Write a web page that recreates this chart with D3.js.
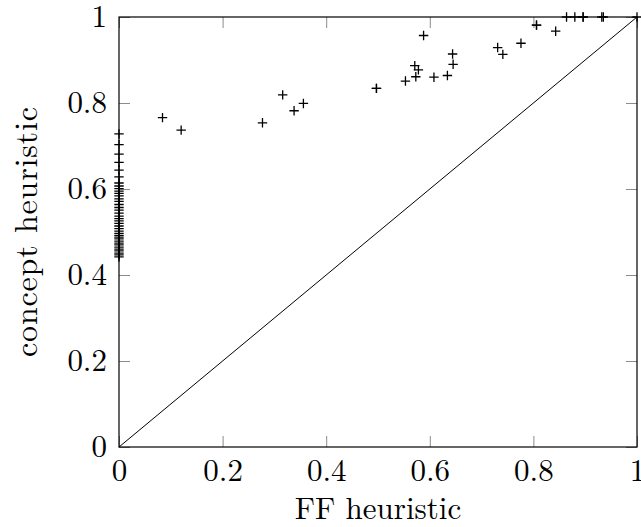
<!DOCTYPE html>
<html>
<head>
<meta charset="utf-8">
<script src="https://cdn.jsdelivr.net/npm/d3@7"></script>
<style>
  body { margin: 0; background: #fff; }
  svg text { font-family: "Latin Modern Roman", "Liberation Serif", serif; fill: #000; }
</style>
</head>
<body>
<script>
'use strict';

// tick values and labels (same on both axes)
const tickValues = [0, 0.2, 0.4, 0.6, 0.8, 1];
const tickLabels = ["0", "0.2", "0.4", "0.6", "0.8", "1"];

// points with FF heuristic = 0, concept heuristic values read from the left edge
const zeroColumnY = [0.728, 0.703, 0.681, 0.662, 0.644, 0.628, 0.614, 0.607, 0.601,
  0.595, 0.590, 0.584, 0.577, 0.571, 0.564, 0.557, 0.551, 0.544, 0.537, 0.531,
  0.526, 0.520, 0.514, 0.508, 0.502, 0.497, 0.492, 0.488, 0.484, 0.479, 0.474,
  0.470, 0.465, 0.460, 0.456, 0.451, 0.447, 0.442];

// remaining points: FF heuristic (x) and concept heuristic (y)
const ffValues = [0.084, 0.120, 0.277, 0.316, 0.338, 0.356, 0.497, 0.497, 0.553,
  0.571, 0.578, 0.573, 0.588, 0.608, 0.634, 0.644, 0.645, 0.731, 0.741, 0.776,
  0.806, 0.806, 0.843, 0.864, 0.880, 0.896, 0.896, 0.932, 0.935, 1.0];
const conceptValues = [0.766, 0.737, 0.754, 0.819, 0.782, 0.799, 0.834, 0.834, 0.851,
  0.887, 0.877, 0.861, 0.957, 0.860, 0.864, 0.914, 0.890, 0.929, 0.913, 0.939,
  0.981, 0.981, 0.967, 1.0, 1.0, 1.0, 1.0, 1.0, 1.0, 1.0];

const width = 641, height = 527;
const plot = { left: 119, right: 637, top: 17, bottom: 447 };
const tickLen = 11;
const fontSize = 31;

const points = zeroColumnY.map(y => ({ x: 0, y: y }))
  .concat(ffValues.map((x, i) => ({ x: x, y: conceptValues[i] })));

const svg = d3.select('body')
  .append('svg')
  .attr('width', width)
  .attr('height', height);

const xScale = d3.scaleLinear().domain([0, 1]).range([plot.left, plot.right]);
const yScale = d3.scaleLinear().domain([0, 1]).range([plot.bottom, plot.top]);

const fmt = d => tickLabels[tickValues.indexOf(d)];

// bottom axis with labels, ticks pointing inward
const xAxis = svg.append('g')
  .attr('transform', 'translate(0,' + plot.bottom + ')')
  .call(d3.axisBottom(xScale).tickValues(tickValues).tickFormat(fmt)
    .tickSize(-tickLen).tickPadding(12));

// top axis, ticks only
const xAxisTop = svg.append('g')
  .attr('transform', 'translate(0,' + plot.top + ')')
  .call(d3.axisTop(xScale).tickValues(tickValues).tickFormat('')
    .tickSize(-tickLen));

// left axis with labels
const yAxis = svg.append('g')
  .attr('transform', 'translate(' + plot.left + ',0)')
  .call(d3.axisLeft(yScale).tickValues(tickValues).tickFormat(fmt)
    .tickSize(-tickLen).tickPadding(12));

// right axis, ticks only
const yAxisRight = svg.append('g')
  .attr('transform', 'translate(' + plot.right + ',0)')
  .call(d3.axisRight(yScale).tickValues(tickValues).tickFormat('')
    .tickSize(-tickLen));

[xAxis, xAxisTop, yAxis, yAxisRight].forEach(g => {
  g.select('.domain').remove();
  g.selectAll('.tick line').attr('stroke', '#8c8c8c').attr('stroke-width', 1);
  g.selectAll('.tick text')
    .style('font-size', fontSize + 'px')
    .style('font-family', '"Latin Modern Roman", "Liberation Serif", serif');
});

// diagonal reference line x = y
svg.append('line')
  .attr('x1', xScale(0)).attr('y1', yScale(0))
  .attr('x2', xScale(1)).attr('y2', yScale(1))
  .attr('stroke', '#000')
  .attr('stroke-width', 1);

// plot frame
svg.append('rect')
  .attr('x', plot.left).attr('y', plot.top)
  .attr('width', plot.right - plot.left)
  .attr('height', plot.bottom - plot.top)
  .attr('fill', 'none')
  .attr('stroke', '#000')
  .attr('stroke-width', 1.2);

// "+" markers
const cross = 4.7;
const marks = svg.append('g')
  .attr('stroke', '#000')
  .attr('stroke-width', 1.3);
marks.selectAll('path')
  .data(points)
  .enter()
  .append('path')
  .attr('d', d => {
    const cx = xScale(d.x), cy = yScale(d.y);
    return 'M' + (cx - cross) + ',' + cy + 'H' + (cx + cross) +
      'M' + cx + ',' + (cy - cross) + 'V' + (cy + cross);
  });

// axis titles
svg.append('text')
  .attr('x', (plot.left + plot.right) / 2)
  .attr('y', 519)
  .attr('text-anchor', 'middle')
  .style('font-size', fontSize + 'px')
  .text('FF heuristic');

svg.append('text')
  .attr('transform', 'translate(37,' + (plot.top + plot.bottom) / 2 + ')rotate(-90)')
  .attr('text-anchor', 'middle')
  .style('font-size', '32px')
  .attr('textLength', 250)
  .attr('lengthAdjust', 'spacing')
  .text('concept heuristic');
</script>
</body>
</html>
